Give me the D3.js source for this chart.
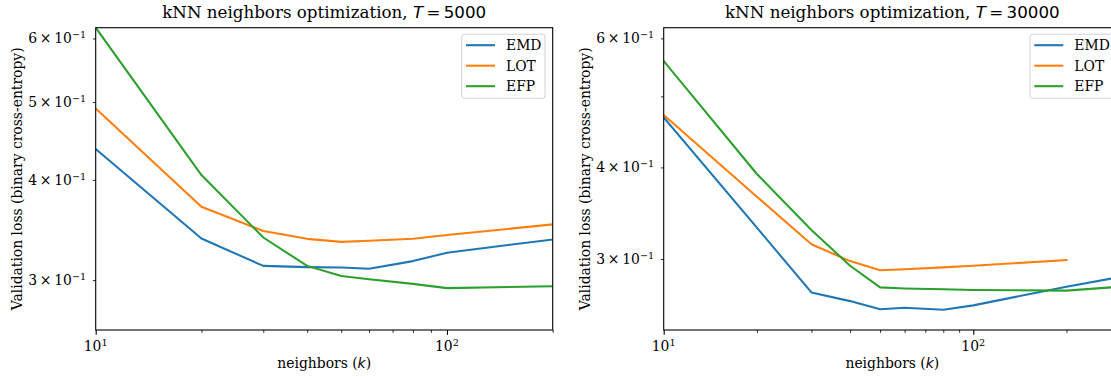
<!DOCTYPE html>
<html>
<head>
<meta charset="utf-8">
<script src="https://cdn.jsdelivr.net/npm/d3@7"></script>
<style>
  body { margin: 0; background: #fff; }
  svg { display: block; }
  text { font-family: "DejaVu Serif", serif; fill: #000; }
  .math { font-family: "DejaVu Sans", sans-serif; }
</style>
</head>
<body>
<div id="chart"></div>
<script>
// data
var kLeft = [10, 20, 30, 40, 50, 60, 80, 100, 200];
var emdLeft = [0.437, 0.338, 0.3125, 0.3114, 0.311, 0.310, 0.3168, 0.3245, 0.3371];
var lotLeft = [0.4908, 0.3702, 0.3453, 0.3377, 0.3348, 0.3358, 0.3378, 0.3414, 0.352];
var efpLeft = [0.619, 0.4055, 0.339, 0.3125, 0.3035, 0.3007, 0.2968, 0.2932, 0.2948];

var kRight = [10, 20, 30, 40, 50, 60, 80, 100, 200, 300];
var emdRight = [0.468, 0.331, 0.2701, 0.2628, 0.2561, 0.2574, 0.2557, 0.2593, 0.275, 0.2836];
var lotRight = [0.4716, 0.3648, 0.3142, 0.298, 0.2896, 0.2905, 0.2922, 0.2937, 0.299, null];
var efpRight = [0.5587, 0.3918, 0.3286, 0.2937, 0.2744, 0.2735, 0.2728, 0.2721, 0.2716, 0.275];

var seriesNames = ["EMD", "LOT", "EFP"];
var colors = ["#1f77b4", "#ff7f0e", "#2ca02c"];

var xMajor = [10, 100];
var yTicks = [0.3, 0.4, 0.5, 0.6];

var W = 1111, H = 377;
var svg = d3.select("#chart").append("svg")
  .attr("width", W)
  .attr("height", H);

function drawPanel(p) {
  var width = p.width, height = 302.3;
  var g = svg.append("g")
    .attr("transform", "translate(" + p.left + "," + 27.7 + ")");

  var x = d3.scaleLog().domain(p.xDomain).range([0, width]);
  var y = d3.scaleLog().domain(p.yDomain).range([height, 0]);

  var clipId = "clip" + p.id;
  g.append("clipPath").attr("id", clipId)
    .append("rect").attr("width", width).attr("height", height);

  // lines
  var line = d3.line()
    .defined(function(d) { return d[1] != null; })
    .x(function(d) { return x(d[0]); })
    .y(function(d) { return y(d[1]); });

  p.series.forEach(function(vals, i) {
    var pts = p.k.map(function(k, j) { return [k, vals[j]]; });
    g.append("path")
      .attr("clip-path", "url(#" + clipId + ")")
      .attr("d", line(pts))
      .attr("fill", "none")
      .attr("stroke", colors[i])
      .attr("stroke-width", 2.08)
      .attr("stroke-linejoin", "round")
      .attr("stroke-linecap", "square");
  });

  // x ticks
  var xMinor = [20, 30, 40, 50, 60, 70, 80, 90, 200, 300].filter(function(v) {
    return v <= p.xDomain[1];
  });
  var xMinorAxis = g.append("g")
    .attr("transform", "translate(0," + height + ")")
    .call(d3.axisBottom(x).tickValues(xMinor).tickSize(2.8).tickSizeOuter(0).tickFormat(""));
  xMinorAxis.select(".domain").remove();
  xMinorAxis.selectAll("line").attr("stroke-width", 0.83);

  var xMajorAxis = g.append("g")
    .attr("transform", "translate(0," + height + ")")
    .call(d3.axisBottom(x).tickValues(xMajor).tickSize(4.86).tickSizeOuter(0).tickFormat(""));
  xMajorAxis.select(".domain").remove();
  xMajorAxis.selectAll("line").attr("stroke-width", 1.1);

  xMajor.forEach(function(v) {
    var t = g.append("text")
      .attr("x", x(v))
      .attr("y", height + 21.5)
      .attr("text-anchor", "middle")
      .style("font-size", "13.9px");
    t.append("tspan").text("10");
    t.append("tspan").attr("dy", -5.5).style("font-size", "9.7px").text(Math.round(Math.log10(v)));
  });

  // y ticks
  var yAxis = g.append("g")
    .call(d3.axisLeft(y).tickValues(yTicks).tickSize(2.8).tickSizeOuter(0).tickFormat(""));
  yAxis.select(".domain").remove();
  yAxis.selectAll("line").attr("stroke-width", 0.83);

  p.yLabeled.forEach(function(v) {
    var t = g.append("text")
      .attr("x", -9.5)
      .attr("y", y(v) + 5)
      .attr("text-anchor", "end")
      .style("font-size", "13.9px");
    t.append("tspan").text(Math.round(v * 10) + "\u2009\u00d7\u200910");
    t.append("tspan").attr("dy", -5.3).style("font-size", "9.7px").text("\u22121");
  });

  // spines
  g.append("rect")
    .attr("width", width)
    .attr("height", height)
    .attr("fill", "none")
    .attr("stroke", "#000")
    .attr("stroke-width", 1.1);

  // title
  var title = g.append("text")
    .attr("x", width / 2)
    .attr("y", -9.5)
    .attr("text-anchor", "middle")
    .style("font-size", "16.7px");
  title.append("tspan").text("kNN neighbors optimization, ");
  title.append("tspan").attr("class", "math").style("font-style", "italic").text("T");
  title.append("tspan").attr("class", "math").text("\u2009=\u2009" + p.T);

  // x label
  var xl = g.append("text")
    .attr("x", width / 2)
    .attr("y", height + 38)
    .attr("text-anchor", "middle")
    .style("font-size", "13.9px");
  xl.append("tspan").text("neighbors (");
  xl.append("tspan").attr("class", "math").style("font-style", "italic").text("k");
  xl.append("tspan").text(")");

  // y label
  g.append("text")
    .attr("transform", "translate(" + p.yLabelX + "," + height / 2 + ") rotate(-90)")
    .attr("text-anchor", "middle")
    .style("font-size", "13.9px")
    .text("Validation loss (binary cross-entropy)");

  // legend
  var lw = 83.3, lh = 64;
  var lg = g.append("g")
    .attr("transform", "translate(" + (width - 7.7 - lw) + "," + 6.6 + ")");
  lg.append("rect")
    .attr("width", lw)
    .attr("height", lh)
    .attr("rx", 2.8)
    .attr("fill", "rgba(255,255,255,0.8)")
    .attr("stroke", "rgba(204,204,204,0.8)")
    .attr("stroke-width", 1.1);
  seriesNames.forEach(function(name, i) {
    var cy = 10.9 + i * 20.5;
    lg.append("line")
      .attr("x1", 4.3).attr("x2", 33.3)
      .attr("y1", cy).attr("y2", cy)
      .attr("stroke", colors[i])
      .attr("stroke-width", 2.08);
    lg.append("text")
      .attr("x", 44.3)
      .attr("y", cy + 5)
      .style("font-size", "13.9px")
      .text(name);
  });
}

drawPanel({
  id: "L", left: 95.7, width: 457,
  xDomain: [10, 200], yDomain: [0.26, 0.6188],
  k: kLeft, series: [emdLeft, lotLeft, efpLeft],
  yLabeled: [0.3, 0.4, 0.5, 0.6],
  T: "5000", yLabelX: -73.5
});

drawPanel({
  id: "R", left: 663.7, width: 457.3,
  xDomain: [10, 300], yDomain: [0.24, 0.6205],
  k: kRight, series: [emdRight, lotRight, efpRight],
  yLabeled: [0.3, 0.4, 0.6],
  T: "30000", yLabelX: -73.5
});
</script>
</body>
</html>
